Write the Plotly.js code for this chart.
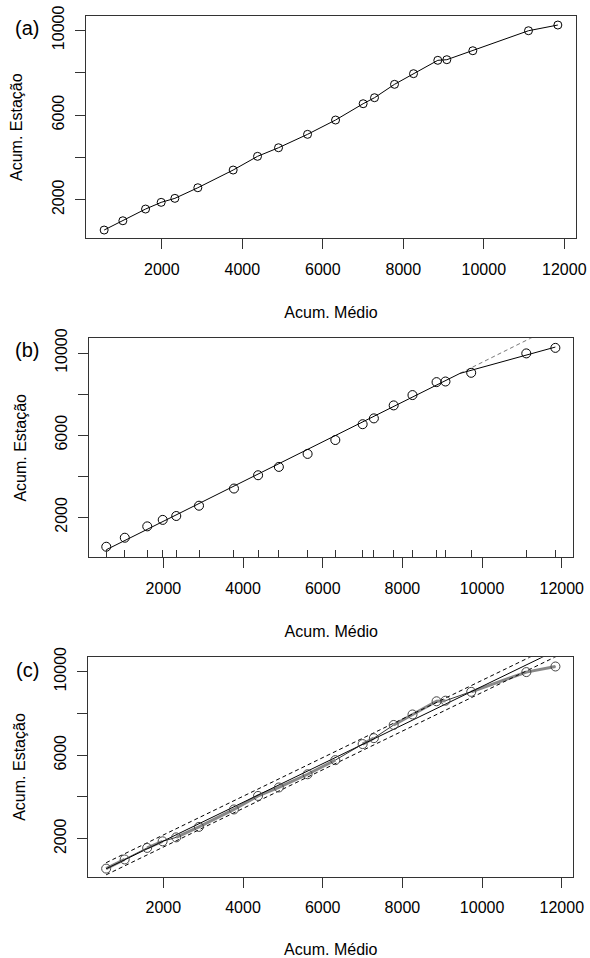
<!DOCTYPE html>
<html>
<head>
<meta charset="utf-8">
<script src="https://cdn.plot.ly/plotly-3.0.1.min.js"></script>
<style>html,body{margin:0;padding:0;background:#fff;}#chart{width:590px;height:958px;}</style>
</head>
<body>
<div id="chart"></div>
<script>
// Data
const xData = [566,1031,1595,1983,2323,2894,3772,4377,4899,5620,6316,7002,7284,7781,8253,8857,9081,9727,11110,11840];
const yData = [567,1006,1559,1875,2064,2565,3401,4048,4454,5087,5763,6533,6817,7449,7952,8583,8612,9036,9981,10250];

// Panel (b): segmented fit
const seg1X = [566, 9445];
const seg1Y = [420, 9007];
const seg2X = [9445, 11840];
const seg2Y = [9007, 10289];
const extX = [9445, 11300];
const extY = [9007, 10800];

// Panel (c): regression line and bands
const regX = [566, 12000];
const regY = [560, 11150];
const upX = [566, 12000];
const upY = [850, 11440];
const loX = [566, 12000];
const loY = [270, 10860];
// groups of consecutive points drawn with thick grey segments
const grayGroups = [[0,1],[2,3],[4,5,6,7,8,9,10],[11,12],[13,14,15,16],[17,18,19]];

const xTickVals = [2000,4000,6000,8000,10000,12000];
const xTickText = ['2000','4000','6000','8000','10000','12000'];
const yTickVals = [2000,4000,6000,8000,10000];
const yTickText = ['2000','','6000','','10000'];

const xTitle = 'Acum. Médio';
const yTitle = 'Acum. Estação';
const panelLabels = ['(a)','(b)','(c)'];

const FONT = 'Liberation Sans, Arial, sans-serif';

const grayX = [], grayY = [];
grayGroups.forEach(g => { g.forEach(i => { grayX.push(xData[i]); grayY.push(yData[i]); }); grayX.push(null); grayY.push(null); });

const traces = [
  // (a)
  {x: xData, y: yData, xaxis: 'x', yaxis: 'y', type: 'scatter', mode: 'lines+markers',
   line: {color: '#000', width: 1}, marker: {symbol: 'circle-open', size: 8, color: '#000', line: {width: 1}}},
  // (b)
  {x: extX, y: extY, xaxis: 'x2', yaxis: 'y2', type: 'scatter', mode: 'lines',
   line: {color: '#777', width: 1, dash: '4px,3px'}},
  {x: seg1X, y: seg1Y, xaxis: 'x2', yaxis: 'y2', type: 'scatter', mode: 'lines', line: {color: '#000', width: 1}},
  {x: seg2X, y: seg2Y, xaxis: 'x2', yaxis: 'y2', type: 'scatter', mode: 'lines', line: {color: '#000', width: 1}},
  {x: xData, y: yData, xaxis: 'x2', yaxis: 'y2', type: 'scatter', mode: 'markers',
   marker: {symbol: 'circle-open', size: 9, color: '#000', line: {width: 1}}},
  // (c)
  {x: xData, y: yData, xaxis: 'x3', yaxis: 'y3', type: 'scatter', mode: 'lines',
   line: {color: '#000', width: 0.8}},
  {x: grayX, y: grayY, xaxis: 'x3', yaxis: 'y3', type: 'scatter', mode: 'lines', connectgaps: false,
   line: {color: '#888', width: 3}},
  {x: regX, y: regY, xaxis: 'x3', yaxis: 'y3', type: 'scatter', mode: 'lines', line: {color: '#000', width: 1}},
  {x: upX, y: upY, xaxis: 'x3', yaxis: 'y3', type: 'scatter', mode: 'lines', line: {color: '#000', width: 1, dash: '4px,3px'}},
  {x: loX, y: loY, xaxis: 'x3', yaxis: 'y3', type: 'scatter', mode: 'lines', line: {color: '#000', width: 1, dash: '4px,3px'}},
  {x: xData, y: yData, xaxis: 'x3', yaxis: 'y3', type: 'scatter', mode: 'markers',
   marker: {symbol: 'circle-open', size: 9, color: '#444', line: {width: 1}}}
];

function xa(domain, range, anchor) {
  return {domain: domain, range: range, anchor: anchor, showline: true, mirror: true, linecolor: '#333', linewidth: 1,
    ticks: 'outside', ticklen: 10, tickcolor: '#333', tickwidth: 1, showgrid: false, zeroline: false,
    tickmode: 'array', tickvals: xTickVals, ticktext: xTickText, ticklabelstandoff: 6,
    tickfont: {family: FONT, size: 16, color: '#000'},
    title: {text: xTitle, font: {family: FONT, size: 16, color: '#000'}, standoff: 30}, automargin: false};
}
function ya(domain, range, anchor) {
  return {domain: domain, range: range, anchor: anchor, showline: true, mirror: true, linecolor: '#333', linewidth: 1,
    ticks: 'outside', ticklen: 10, tickcolor: '#333', tickwidth: 1, showgrid: false, zeroline: false,
    tickmode: 'array', tickvals: yTickVals, ticktext: yTickText, tickangle: -90, ticklabelstandoff: 5,
    tickfont: {family: FONT, size: 16, color: '#000'},
    title: {text: yTitle, font: {family: FONT, size: 16, color: '#000'}, standoff: 22}, automargin: false};
}

const layout = {
  width: 590, height: 958, margin: {l: 0, r: 0, t: 0, b: 0},
  paper_bgcolor: '#fff', plot_bgcolor: '#fff', showlegend: false,
  xaxis: xa([86/590, 576/590], [115, 12291], 'y'),
  yaxis: ya([1-238.3/958, 1-16/958], [177, 10676], 'x'),
  xaxis2: xa([89.3/590, 573.3/590], [140, 12290], 'y2'),
  yaxis2: ya([1-557.3/958, 1-338.3/958], [53, 10716], 'x2'),
  xaxis3: xa([88.3/590, 573.3/590], [118, 12288], 'y3'),
  yaxis3: ya([1-876.7/958, 1-657.3/958], [180, 10690], 'x3'),
  xaxis4: {overlaying: 'x2', anchor: 'y2', range: [140, 12290], side: 'bottom', showline: false, showgrid: false, zeroline: false,
    tickmode: 'array', tickvals: xData, ticks: 'inside', ticklen: 7, tickcolor: '#333', tickwidth: 1, showticklabels: false},
  annotations: [
    {text: panelLabels[0], xref: 'paper', yref: 'paper', x: 27/590, y: 1-28/958, xanchor: 'center', yanchor: 'middle', showarrow: false, font: {family: FONT, size: 20, color: '#000'}},
    {text: panelLabels[1], xref: 'paper', yref: 'paper', x: 27/590, y: 1-350/958, xanchor: 'center', yanchor: 'middle', showarrow: false, font: {family: FONT, size: 20, color: '#000'}},
    {text: panelLabels[2], xref: 'paper', yref: 'paper', x: 27/590, y: 1-670/958, xanchor: 'center', yanchor: 'middle', showarrow: false, font: {family: FONT, size: 20, color: '#000'}}
  ]
};
// rug trace for overlay axis so it is drawn
traces.push({x: [null], y: [null], xaxis: 'x4', yaxis: 'y2', type: 'scatter', mode: 'markers', hoverinfo: 'skip'});

Plotly.newPlot('chart', traces, layout, {staticPlot: true});
</script>
</body>
</html>
